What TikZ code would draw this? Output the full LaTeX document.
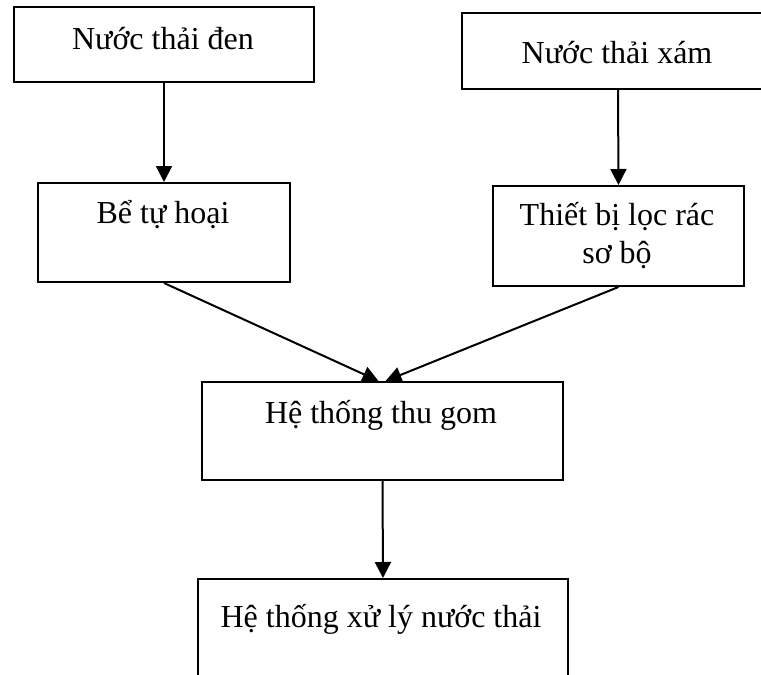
\documentclass[tikz,border=0pt]{standalone}
\usepackage{fontspec}
\setmainfont{Liberation Serif}
\usetikzlibrary{arrows.meta}
\begin{document}
\begin{tikzpicture}[x=1pt,y=-1pt,
  box/.style={draw,line width=2pt,rectangle,inner sep=0pt,anchor=north west},
  lbl/.style={font=\fontsize{32}{38}\selectfont,anchor=base,inner sep=0pt,align=center},
  conn/.style={line width=2pt,-{Triangle[width=16pt,length=16pt]}}]
\useasboundingbox (0,0) rectangle (761,675);
\clip (0,0) rectangle (761,675);
\node[box,minimum width=300pt,minimum height=75pt] (b1) at (13,6) {};
\node[box,minimum width=312pt,minimum height=76pt] (b2) at (461,12) {};
\node[box,minimum width=252pt,minimum height=99pt] (b3) at (37,182) {};
\node[box,minimum width=251pt,minimum height=100pt] (b4) at (492,185) {};
\node[box,minimum width=361pt,minimum height=98pt] (b5) at (201,381) {};
\node[box,minimum width=370pt,minimum height=140pt] (b6) at (197,578) {};
\node[lbl] (t1) at (163,49) {Nước thải đen};
\node[lbl] (t2) at (617,63) {Nước thải xám};
\node[lbl] (t3) at (163,223) {Bể tự hoại};
\node[lbl] (t4) at (617,263) {Thiết bị lọc rác\\sơ bộ};
\node[lbl] (t5) at (381,423) {Hệ thống thu gom};
\node[lbl] (t6) at (381,627) {Hệ thống xử lý nước thải};
\draw[conn] (b1.south) -- (b3.north);
\draw[conn] (b2.south) -- (b4.north);
\draw[conn] (b3.south) -- ([xshift=-4pt]b5.north);
\draw[conn] (b4.south) -- ([xshift=3pt]b5.north);
\draw[conn] (b5.south) -- (b6.north);
\end{tikzpicture}
\end{document}
